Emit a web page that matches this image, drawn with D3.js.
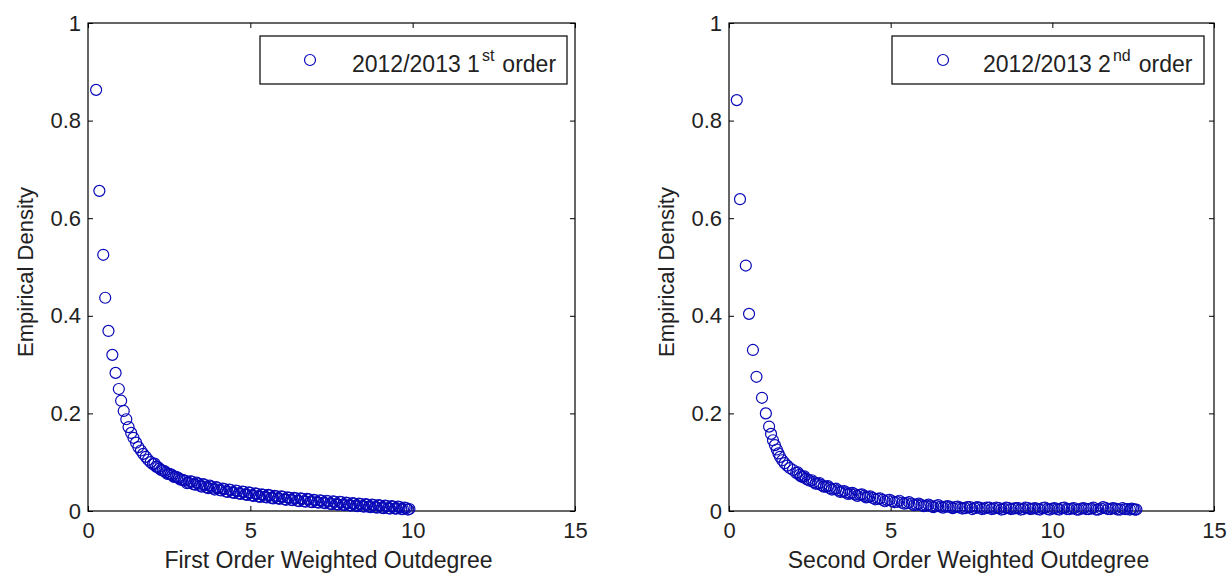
<!DOCTYPE html>
<html>
<head>
<meta charset="utf-8">
<script src="https://cdn.jsdelivr.net/npm/d3@7"></script>
<style>
  body { margin: 0; background: #fff; }
  text { font-family: "Liberation Sans", Arial, Helvetica, sans-serif; fill: #222; }
</style>
</head>
<body>
<div id="chart"></div>
<script>
// data
const xTicks = [0, 5, 10, 15]
const yTicks = [0, 0.2, 0.4, 0.6, 0.8, 1]
const xLabels = ["First Order Weighted Outdegree", "Second Order Weighted Outdegree"]
const yLabel = "Empirical Density"
const legendMain = ["2012/2013 1", "2012/2013 2"]
const legendSup = ["st", "nd"]

const firstOrderX = [0.25,0.35,0.47,0.53,0.63,0.75,0.85,0.95,1.02,1.10,1.18,1.25,1.33,1.40,1.48,1.55,1.63,1.70,1.78,1.85,1.93,2.00,
  2.10,2.20,2.30,2.40,2.50,2.60,2.70,2.80,2.90,
  3.00,3.10,3.20,3.30,3.40,3.50,3.60,3.70,3.80,3.90,
  4.00,4.10,4.20,4.30,4.40,4.50,4.60,4.70,4.80,4.90,
  5.00,5.10,5.20,5.30,5.40,5.50,5.60,5.70,5.80,5.90,
  6.00,6.10,6.20,6.30,6.40,6.50,6.60,6.70,6.80,6.90,
  7.00,7.10,7.20,7.30,7.40,7.50,7.60,7.70,7.80,7.90,
  8.00,8.10,8.20,8.30,8.40,8.50,8.60,8.70,8.80,8.90,
  9.00,9.10,9.20,9.30,9.40,9.50,9.60,9.70,9.80,9.85,9.90,
  2.05,2.15,2.25,2.35,2.45,2.55,2.65,2.75,2.85,2.95,
  3.05,3.15,3.25,3.35,3.45,3.55,3.65,3.75,3.85,3.95,
  4.05,4.15,4.25,4.35,4.45,4.55,4.65,4.75,4.85,4.95,
  5.05,5.15,5.25,5.35,5.45,5.55,5.65,5.75,5.85,5.95,
  6.05,6.15,6.25,6.35,6.45,6.55,6.65,6.75,6.85,6.95,
  7.05,7.15,7.25,7.35,7.45,7.55,7.65,7.75,7.85,7.95,
  8.05,8.15,8.25,8.35,8.45,8.55,8.65,8.75,8.85,8.95,
  9.05,9.15,9.25,9.35,9.45,9.55,9.65,9.75]
const firstOrderY = [0.863,0.656,0.525,0.437,0.369,0.320,0.283,0.250,0.226,0.205,0.188,0.172,0.160,0.150,0.140,0.131,0.124,0.117,0.111,0.105,0.100,0.096,
  0.091,0.087,0.083,0.079,0.076,0.073,0.070,0.067,0.064,
  0.062,0.058,0.060,0.054,0.056,0.050,0.053,0.047,0.050,0.044,
  0.047,0.042,0.045,0.039,0.043,0.037,0.041,0.035,0.039,0.033,
  0.037,0.031,0.035,0.029,0.033,0.028,0.032,0.026,0.030,0.025,
  0.029,0.023,0.027,0.022,0.026,0.020,0.025,0.019,0.024,0.018,
  0.022,0.017,0.021,0.016,0.020,0.014,0.019,0.013,0.018,0.012,
  0.016,0.011,0.015,0.010,0.014,0.009,0.013,0.008,0.012,0.007,
  0.011,0.006,0.010,0.005,0.009,0.005,0.008,0.004,0.006,0.003,0.004,
  0.097,0.090,0.084,0.082,0.076,0.075,0.070,0.069,0.064,0.063,
  0.057,0.061,0.055,0.058,0.052,0.055,0.049,0.052,0.046,0.049,
  0.043,0.046,0.040,0.044,0.038,0.042,0.036,0.040,0.034,0.038,
  0.032,0.036,0.030,0.034,0.029,0.033,0.027,0.031,0.026,0.030,
  0.024,0.028,0.023,0.027,0.021,0.026,0.020,0.025,0.019,0.023,
  0.018,0.022,0.017,0.021,0.015,0.020,0.014,0.019,0.013,0.017,
  0.012,0.016,0.011,0.015,0.010,0.014,0.009,0.013,0.008,0.012,
  0.007,0.011,0.006,0.010,0.005,0.009,0.004,0.007]

const secondOrderX = [0.24,0.34,0.52,0.62,0.74,0.85,1.02,1.14,1.24,1.30,1.36,1.42,1.48,1.53,1.58,1.65,1.72,1.80,1.88,1.98,
  2.08,2.18,2.28,2.38,2.50,2.62,2.74,2.86,3.00,3.12,3.25,3.38,3.50,3.62,3.75,3.90,4.05,4.18,4.30,4.45,
  4.60,4.75,4.90,5.05,5.20,5.35,5.50,5.65,5.80,5.95,6.10,6.25,6.40,6.55,6.70,6.85,7.00,
  7.15,7.30,7.45,7.60,7.75,7.90,8.05,8.20,8.35,8.50,8.65,8.80,8.95,9.10,9.25,9.40,9.55,9.70,9.85,10.00,
  10.15,10.30,10.45,10.60,10.75,10.90,11.05,11.20,11.35,11.50,11.65,11.80,11.95,12.10,12.25,12.40,12.50,12.60,
  2.13,2.23,2.33,2.44,2.56,2.68,2.80,2.93,
  3.06,3.18,3.31,3.44,3.56,3.68,3.82,3.97,
  4.11,4.24,4.37,4.52,4.67,4.82,4.97,
  5.12,5.27,5.42,5.57,5.72,5.87,
  6.02,6.17,6.32,6.47,6.62,6.77,6.92,
  7.07,7.22,7.37,7.52,7.67,7.82,7.97,
  8.12,8.27,8.42,8.57,8.72,8.87,
  9.02,9.17,9.32,9.47,9.62,9.77,9.92,
  10.07,10.22,10.37,10.52,10.67,10.82,10.97,
  11.12,11.27,11.42,11.57,11.72,11.87,
  12.02,12.17,12.32,12.45,12.55]
const secondOrderY = [0.842,0.639,0.503,0.404,0.330,0.275,0.232,0.200,0.173,0.158,0.145,0.135,0.126,0.118,0.111,0.104,0.098,0.093,0.088,0.084,
  0.078,0.074,0.070,0.066,0.062,0.059,0.056,0.053,0.050,0.047,0.045,0.042,0.040,0.038,0.036,0.034,0.033,0.031,0.029,0.027,
  0.025,0.023,0.022,0.020,0.019,0.017,0.016,0.015,0.013,0.012,0.011,0.010,0.010,0.009,0.009,0.008,0.008,
  0.007,0.006,0.008,0.006,0.007,0.005,0.007,0.005,0.006,0.004,0.006,0.005,0.006,0.004,0.006,0.005,0.004,0.006,0.004,0.005,
  0.004,0.006,0.004,0.005,0.003,0.005,0.004,0.005,0.003,0.005,0.006,0.004,0.005,0.003,0.004,0.003,0.004,0.003,
  0.079,0.071,0.071,0.064,0.063,0.056,0.057,0.050,
  0.051,0.044,0.046,0.039,0.041,0.035,0.037,0.031,
  0.034,0.028,0.030,0.024,0.026,0.020,0.023,
  0.018,0.021,0.015,0.018,0.012,0.015,
  0.010,0.013,0.008,0.012,0.007,0.010,0.006,
  0.009,0.005,0.008,0.004,0.008,0.004,0.007,
  0.004,0.007,0.003,0.007,0.004,0.006,
  0.003,0.007,0.004,0.006,0.003,0.007,0.003,
  0.006,0.003,0.007,0.004,0.006,0.003,0.006,
  0.004,0.007,0.003,0.008,0.004,0.006,
  0.003,0.006,0.004,0.005,0.003]

// layout
const W = 1229, H = 574
const plotTop = 23, plotBottom = 511
const markerColor = "#0808b8"

const panels = [
  { left: 88, right: 575, xs: firstOrderX, ys: firstOrderY, xLabel: xLabels[0],
    legend: { x0: 260, x1: 567, marker: 310, text: 352 }, main: legendMain[0], sup: legendSup[0] },
  { left: 729, right: 1214, xs: secondOrderX, ys: secondOrderY, xLabel: xLabels[1],
    legend: { x0: 892, x1: 1204, marker: 943, text: 983 }, main: legendMain[1], sup: legendSup[1] }
]

const svg = d3.select("#chart").append("svg")
  .attr("width", W)
  .attr("height", H)

const drawPanel = (p) => {
  const x = d3.scaleLinear().domain([0, 15]).range([p.left, p.right])
  const y = d3.scaleLinear().domain([0, 1]).range([plotBottom, plotTop])
  const g = svg.append("g")

  // axes box
  g.append("rect")
    .attr("x", p.left).attr("y", plotTop)
    .attr("width", p.right - p.left).attr("height", plotBottom - plotTop)
    .attr("fill", "#fff").attr("stroke", "#000").attr("stroke-width", 1.2)

  const fmt = d3.format("~g")

  const ax = (gen, tx, ty, labels, pad) => {
    const a = g.append("g")
      .attr("transform", `translate(${tx},${ty})`)
      .call(gen.tickSizeInner(-5).tickSizeOuter(0).tickPadding(pad)
        .tickFormat(labels ? fmt : () => ""))
    a.select(".domain").remove()
    a.selectAll("line").attr("stroke", "#000")
    a.selectAll("text")
      .attr("fill", "#222")
      .style("font-size", "22px")
  }
  ax(d3.axisBottom(x).tickValues(xTicks), 0, plotBottom, true, 11)
  ax(d3.axisTop(x).tickValues(xTicks), 0, plotTop, false, 3)
  ax(d3.axisLeft(y).tickValues(yTicks), p.left, 0, true, 7)
  ax(d3.axisRight(y).tickValues(yTicks), p.right, 0, false, 3)

  // markers
  g.append("g").selectAll("circle")
    .data(d3.zip(p.xs, p.ys))
    .join("circle")
    .attr("cx", d => x(d[0]))
    .attr("cy", d => y(d[1]))
    .attr("r", 5.5)
    .attr("fill", "none")
    .attr("stroke", markerColor)
    .attr("stroke-width", 1.2)

  // axis labels
  g.append("text")
    .attr("x", (p.left + p.right) / 2 - 3)
    .attr("y", 568)
    .attr("text-anchor", "middle")
    .style("font-size", "23px")
    .text(p.xLabel)

  g.append("text")
    .attr("transform", `translate(${p.left - 55},272) rotate(-90)`)
    .attr("text-anchor", "middle")
    .style("font-size", "22px")
    .text(yLabel)

  // legend
  const L = p.legend
  g.append("rect")
    .attr("x", L.x0).attr("y", 36)
    .attr("width", L.x1 - L.x0).attr("height", 48)
    .attr("fill", "#fff").attr("stroke", "#000").attr("stroke-width", 1.2)
  g.append("circle")
    .attr("cx", L.marker).attr("cy", 60).attr("r", 5.5)
    .attr("fill", "none").attr("stroke", markerColor).attr("stroke-width", 1.2)
  const t = g.append("text")
    .attr("x", L.text).attr("y", 72)
    .style("font-size", "23px")
  t.append("tspan").text(p.main)
  t.append("tspan").attr("dx", 2).attr("dy", -11).style("font-size", "16px").text(p.sup)
  t.append("tspan").attr("dx", 8).attr("dy", 11).text("order")
}

panels.forEach(drawPanel)
</script>
</body>
</html>
